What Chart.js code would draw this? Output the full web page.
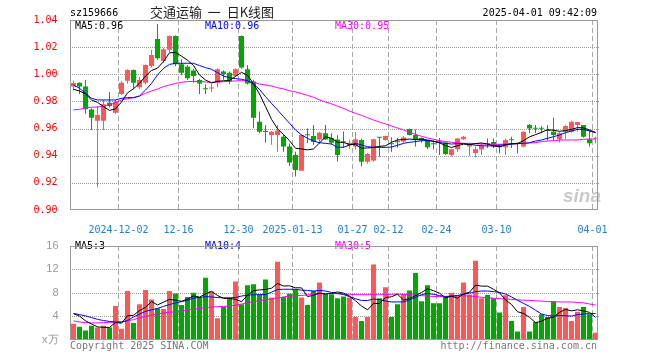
<!DOCTYPE html>
<html>
<head>
<meta charset="utf-8">
<script src="https://cdn.jsdelivr.net/npm/chart.js@4"></script>
<style>
body { margin: 0; background: #fff; }
#wrap { position: relative; width: 660px; height: 360px; overflow: hidden; font-family: "DejaVu Sans Mono", monospace; font-size: 10px; }
canvas { position: absolute; left: 0; z-index: 1; background: transparent; }
.t { position: absolute; white-space: pre; line-height: 12px; z-index: 2; }
.hg { position: absolute; height: 1px; z-index: 0; background: repeating-linear-gradient(to right, #9a9a9a 0 1px, transparent 1px 2px); }
.vg { position: absolute; width: 1px; z-index: 0; background: repeating-linear-gradient(to bottom, #a8a8a8 0 5px, transparent 5px 8px); }
.fr { position: absolute; box-sizing: border-box; border: 1px solid #999; z-index: 3; pointer-events: none; }
</style>
</head>
<body>
<div id="wrap">
  <canvas id="priceChart" width="660" height="235" style="top:0"></canvas>
  <canvas id="volChart" width="660" height="125" style="top:235px"></canvas>

  <div class="t" style="left:70px;top:7px;color:#000">sz159666</div>
  <div class="t" style="left:150px;top:4px;line-height:16px;font-family:'Noto Sans CJK SC',sans-serif;font-size:13px;color:#222">交通运输  一  日K线图</div>
  <div class="t" style="right:63px;top:7px;color:#000">2025-04-01 09:42:09</div>

  <div class="t" style="left:75px;top:20px;color:#000">MA5:0.96</div>
  <div class="t" style="left:205px;top:20px;color:#0000ff">MA10:0.96</div>
  <div class="t" style="left:335px;top:20px;color:#ff00ff">MA30:0.95</div>

  <div class="t" style="left:75px;top:240px;color:#000">MA5:3</div>
  <div class="t" style="left:205px;top:240px;color:#0000ff">MA10:4</div>
  <div class="t" style="left:335px;top:240px;color:#ff00ff">MA30:5</div>

  <div class="t" style="left:563px;top:186px;font-family:'Liberation Sans',sans-serif;font-size:19px;line-height:20px;font-style:italic;font-weight:bold;color:#c9c9c9">sina</div>

  <div class="t" style="left:70px;top:340px;color:#777">Copyright 2025 SINA.COM</div>
  <div class="t" style="right:63px;top:340px;color:#777">http://finance.sina.com.cn</div>
</div>

<script>
// trading days
const dates = [
    '2024-11-20','2024-11-21','2024-11-22','2024-11-25','2024-11-26','2024-11-27','2024-11-28','2024-11-29',
    '2024-12-02','2024-12-03','2024-12-04','2024-12-05','2024-12-06',
    '2024-12-09','2024-12-10','2024-12-11','2024-12-12','2024-12-13',
    '2024-12-16','2024-12-17','2024-12-18','2024-12-19','2024-12-20',
    '2024-12-23','2024-12-24','2024-12-25','2024-12-26','2024-12-27',
    '2024-12-30','2024-12-31','2025-01-02','2025-01-03',
    '2025-01-06','2025-01-07','2025-01-08','2025-01-09','2025-01-10',
    '2025-01-13','2025-01-14','2025-01-15','2025-01-16','2025-01-17',
    '2025-01-20','2025-01-21','2025-01-22','2025-01-23','2025-01-24',
    '2025-01-27','2025-02-05','2025-02-06','2025-02-07',
    '2025-02-10','2025-02-11','2025-02-12','2025-02-13','2025-02-14',
    '2025-02-17','2025-02-18','2025-02-19','2025-02-20','2025-02-21',
    '2025-02-24','2025-02-25','2025-02-26','2025-02-27','2025-02-28',
    '2025-03-03','2025-03-04','2025-03-05','2025-03-06','2025-03-07',
    '2025-03-10','2025-03-11','2025-03-12','2025-03-13','2025-03-14',
    '2025-03-17','2025-03-18','2025-03-19','2025-03-20','2025-03-21',
    '2025-03-24','2025-03-25','2025-03-26','2025-03-27','2025-03-28',
    '2025-03-31','2025-04-01'
];

// x axis labels
const tickDates = ['2024-12-02','2024-12-16','2024-12-30','2025-01-13','2025-01-27','2025-02-12','2025-02-24','2025-03-10','2025-04-01'];
const tickText  = ['2024-12-02','12-16','12-30','2025-01-13','01-27','02-12','02-24','03-10','04-01'];
const priceTicks = [0.90, 0.92, 0.94, 0.96, 0.98, 1.00, 1.02, 1.04];
const volTicks = [0, 4, 8, 12, 16];

// daily prices
const openP = [0.991,0.9938,0.991,0.974,0.9658,0.9658,0.979,0.9717,0.9855,0.9953,
    1.0032,0.9904,0.9938,1.0061,1.026,1.0098,1.018,1.0282,1.0074,1.0056,
    1.0027,0.9958,0.9893,0.9895,0.9938,1.002,1.0012,0.9987,1.0282,1.0037,
    0.9946,0.965,0.958,0.9553,0.9553,0.954,0.9467,0.9405,0.929,0.9556,
    0.9545,0.952,0.9565,0.953,0.952,0.9505,0.9475,0.9467,0.9516,0.9356,
    0.9364,0.9537,0.9516,0.9488,0.9503,0.9504,0.9597,0.9553,0.953,0.9513,
    0.9488,0.9505,0.9497,0.9405,0.9447,0.9521,0.9467,0.942,0.9445,0.9488,
    0.9501,0.9472,0.9462,0.9518,0.9496,0.9467,0.9626,0.9603,0.9603,0.9586,
    0.9577,0.9521,0.9577,0.9577,0.9626,0.9626,0.9521,0.9525];
const highP = [0.9953,0.994,0.9958,0.975,0.9766,0.981,0.987,0.981,0.9953,1.0037,
    1.0035,0.998,1.0072,1.018,1.037,1.0195,1.0285,1.0285,1.011,1.0068,
    1.004,0.9965,0.9925,0.993,1.0045,1.003,1.002,1.0045,1.0285,1.0068,
    0.996,0.9725,0.9626,0.958,0.9626,0.9553,0.949,0.943,0.9555,0.96,
    0.9626,0.9575,0.9626,0.9565,0.955,0.9577,0.952,0.9575,0.9525,0.942,
    0.9525,0.9537,0.9548,0.9535,0.953,0.9545,0.96,0.9594,0.9535,0.9515,
    0.9516,0.953,0.9499,0.9452,0.9528,0.9545,0.9496,0.9467,0.9491,0.9526,
    0.9526,0.9486,0.9526,0.954,0.9496,0.958,0.9633,0.9626,0.9618,0.9626,
    0.968,0.9577,0.9624,0.9658,0.9648,0.9626,0.9589,0.954];
const lowP = [0.988,0.9855,0.971,0.959,0.9167,0.959,0.9755,0.9707,0.9847,0.993,
    0.989,0.989,0.9925,1.005,1.0105,1.0085,1.0165,1.006,0.9995,0.9958,
    0.9938,0.9855,0.9855,0.987,0.9904,0.996,0.9928,0.998,1.004,0.9925,
    0.9602,0.9565,0.9496,0.948,0.943,0.943,0.9325,0.9246,0.929,0.9494,
    0.948,0.9486,0.9515,0.948,0.9357,0.9457,0.945,0.9445,0.932,0.934,
    0.9355,0.9393,0.951,0.943,0.946,0.9495,0.955,0.9467,0.9495,0.945,
    0.9445,0.9405,0.9405,0.9395,0.943,0.9515,0.9397,0.9388,0.9405,0.9457,
    0.9457,0.9418,0.9405,0.9457,0.9418,0.9462,0.9565,0.9565,0.9565,0.9511,
    0.9511,0.9497,0.9521,0.957,0.9577,0.9535,0.9467,0.9491];
const closeP = [0.9935,0.991,0.9742,0.968,0.970,0.978,0.9766,0.9798,0.9938,1.0032,
    0.9938,0.9958,1.0068,1.0142,1.0118,1.0184,1.0282,1.0074,1.0012,0.997,
    0.9987,0.9933,0.989,0.990,1.0037,1.0002,0.9946,1.0037,1.005,0.9933,
    0.968,0.9577,0.9575,0.9577,0.9585,0.9467,0.935,0.9295,0.9553,0.955,
    0.9503,0.957,0.952,0.9495,0.9405,0.950,0.9495,0.9521,0.9356,0.9413,
    0.9521,0.9532,0.9545,0.9484,0.950,0.9535,0.9553,0.9516,0.9513,0.9462,
    0.9484,0.950,0.9413,0.9447,0.9526,0.954,0.9486,0.9447,0.9472,0.9484,
    0.9467,0.9462,0.9516,0.9514,0.9486,0.9577,0.9601,0.9599,0.9599,0.9582,
    0.9553,0.9565,0.9619,0.9651,0.9648,0.954,0.9491,0.953];

// price moving averages
const ma5 = [0.9889,0.9877,0.9855,0.9811,0.9793,0.9762,0.9734,0.9745,0.9796,0.9863,
    0.9894,0.9933,0.9987,1.0028,1.0045,1.0094,1.0159,1.016,1.0134,1.0104,
    1.0065,0.9995,0.9958,0.9936,0.9949,0.9952,0.9955,0.9984,1.0014,0.9994,
    0.9929,0.9855,0.9763,0.9668,0.9599,0.9556,0.9511,0.9455,0.945,0.9443,
    0.945,0.9494,0.9539,0.9528,0.9499,0.9498,0.9483,0.9483,0.9455,0.9457,
    0.9461,0.9469,0.9473,0.9499,0.9516,0.9519,0.9523,0.9518,0.9523,0.9516,
    0.9506,0.9495,0.9474,0.9461,0.9474,0.9485,0.9482,0.9489,0.9494,0.9486,
    0.9471,0.9466,0.948,0.9489,0.9489,0.9511,0.9539,0.9555,0.9572,0.9592,
    0.9587,0.958,0.9584,0.9594,0.9607,0.9605,0.959,0.9572];
const ma10 = [0.9921,0.9897,0.986,0.9823,0.9811,0.9811,0.9811,0.9811,0.9823,0.9828,
    0.9828,0.984,0.9884,0.9933,0.9995,1.0044,1.0073,1.0081,1.0081,1.0081,
    1.0081,1.0064,1.0049,1.0037,1.0012,0.9987,0.9975,0.9968,0.9963,0.9953,
    0.9928,0.9889,0.9835,0.9786,0.9737,0.9688,0.9639,0.959,0.9553,0.9528,
    0.9508,0.9496,0.9491,0.9486,0.9462,0.9462,0.9479,0.9491,0.9479,0.9467,
    0.9462,0.9462,0.9462,0.9464,0.9477,0.9491,0.9499,0.9504,0.9511,0.9511,
    0.9506,0.9496,0.9491,0.9486,0.9489,0.9491,0.9484,0.9477,0.9474,0.9472,
    0.9474,0.9477,0.9481,0.9486,0.9489,0.9491,0.9496,0.9508,0.9516,0.9528,
    0.954,0.9553,0.957,0.9582,0.9594,0.9594,0.9582,0.957];
const ma30 = [0.9737,0.9742,0.9752,0.9757,0.9759,0.9764,0.9774,0.9791,0.9811,0.982,
    0.9828,0.984,0.986,0.9877,0.9892,0.9909,0.9921,0.9933,0.9941,0.9946,
    0.9948,0.9948,0.9943,0.9941,0.9943,0.9946,0.9948,0.9951,0.9953,0.9951,
    0.9941,0.9928,0.9921,0.9914,0.9901,0.9892,0.9879,0.987,0.9857,0.9845,
    0.983,0.9811,0.9796,0.9782,0.9765,0.9749,0.9729,0.9712,0.9698,0.968,
    0.9663,0.9648,0.9634,0.9619,0.9604,0.959,0.9572,0.9558,0.9543,0.9531,
    0.9521,0.9511,0.9504,0.9499,0.9494,0.9491,0.9491,0.9489,0.9486,0.9486,
    0.9484,0.9484,0.9486,0.9486,0.9489,0.9491,0.9494,0.9496,0.9504,0.9508,
    0.9511,0.9516,0.9516,0.9516,0.9516,0.9521,0.9523,0.9523];

// volume (x万) and its averages
const volume = [2.77,2.24,1.6,2.4,2.1,2.4,2.13,5.76,1.92,8.32,
    2.88,6.08,8.48,6.88,5.4,5.25,8.32,7.87,5.95,7.3,
    8.0,7.25,10.56,8.2,3.68,5.62,7.1,9.92,6.08,9.3,
    9.44,7.72,10.24,7.22,13.28,7.3,7.84,8.6,7.2,5.92,
    8.32,9.76,7.8,7.76,7.09,7.36,7.2,3.89,3.2,3.89,
    12.8,7.09,8.96,3.89,6.08,7.84,8.37,11.36,6.56,9.28,
    6.24,6.24,7.36,8.0,7.63,9.76,7.73,13.44,7.09,7.63,
    7.09,4.64,7.57,3.2,1.44,5.6,1.44,3.04,4.37,3.89,
    6.56,5.6,5.44,3.2,4.8,5.6,4.37,1.23];
const vma5 = [4.48,4.05,3.25,2.72,2.22,2.15,2.13,2.96,2.86,4.11,
    4.2,4.99,5.54,6.53,5.94,6.42,6.87,6.74,6.56,6.94,
    7.49,7.27,7.81,8.26,7.54,7.06,7.03,6.9,6.48,7.6,
    8.37,8.49,8.56,8.78,9.58,9.15,9.18,8.85,8.84,7.37,
    7.58,7.96,7.8,7.91,8.15,7.95,7.44,6.66,5.75,5.11,
    6.2,6.17,7.19,7.33,7.76,6.77,7.03,7.51,8.04,8.68,
    8.36,7.94,7.14,7.42,7.09,7.8,8.1,9.31,9.13,9.13,
    8.6,7.98,6.8,6.03,4.79,4.49,3.85,2.94,3.18,3.67,
    3.86,4.69,5.17,4.94,5.12,4.93,4.68,3.84];
const vma10 = [4.5,4.3,4.1,3.8,3.5,3.3,3.15,3.05,3.0,3.3,
    3.9,4.4,4.85,5.1,5.35,5.7,6.0,6.3,6.5,6.75,
    7.1,7.2,7.35,7.3,7.2,7.15,7.15,7.2,7.45,7.6,
    7.68,7.68,7.7,8.1,8.55,8.6,8.6,8.6,8.45,8.4,
    8.3,8.4,8.3,8.05,7.9,7.7,7.35,7.0,6.7,6.7,
    6.95,6.85,6.6,6.45,6.45,6.45,6.8,7.2,7.7,7.88,
    7.75,7.52,7.38,7.45,7.55,7.75,7.95,8.2,8.3,8.3,
    8.2,8.05,7.8,7.3,6.75,6.2,5.7,5.05,4.4,4.15,
    4.05,4.15,4.1,4.05,4.3,4.4,4.48,4.48];
const vma30 = [3.25,3.05,2.95,2.9,2.9,2.95,3.0,3.05,3.1,3.25,
    3.45,3.75,4.0,4.2,4.4,4.6,4.7,4.8,4.9,5.05,
    5.2,5.35,5.45,5.6,5.65,5.7,5.75,5.9,6.1,6.3,
    6.5,6.65,6.8,6.95,7.1,7.3,7.45,7.5,7.55,7.65,
    7.75,7.8,7.85,7.9,7.85,7.8,7.75,7.7,7.68,7.68,
    7.68,7.68,7.7,7.75,7.78,7.72,7.68,7.6,7.52,7.45,
    7.38,7.36,7.36,7.4,7.5,7.5,7.45,7.36,7.25,7.15,
    7.08,7.0,6.95,6.88,6.8,6.75,6.72,6.65,6.6,6.52,
    6.48,6.45,6.45,6.45,6.35,6.3,6.1,5.92];

const UP = '#ff5656';
const DOWN = '#00a800';
const monoFont = { family: 'DejaVu Sans Mono', size: 10 };

const candleColor = closeP.map((c, i) => c >= openP[i] ? UP : DOWN);

// grid lines behind the canvas and a grey frame on top, placed with the chart's own scales
function addGrid(chart, values, canvasTop) {
    const wrap = document.getElementById('wrap');
    const a = chart.chartArea;
    const x = chart.scales.x;
    const y = chart.scales.y;
    const left = Math.floor(a.left);
    const right = Math.floor(a.right);
    const top = canvasTop + Math.round(a.top);
    const bottom = canvasTop + Math.round(a.bottom);

    values.slice(1, -1).forEach(v => {
        const d = document.createElement('div');
        d.className = 'hg';
        d.style.left = left + 'px';
        d.style.width = (right - left + 2) + 'px';
        d.style.top = (canvasTop + Math.round(y.getPixelForValue(v))) + 'px';
        wrap.insertBefore(d, wrap.firstChild);
    });

    const half = (x.getPixelForValue(1) - x.getPixelForValue(0)) / 2;
    tickDates.forEach(dt => {
        const i = dates.indexOf(dt);
        const d = document.createElement('div');
        d.className = 'vg';
        d.style.left = Math.floor(x.getPixelForValue(i) - half) + 'px';
        d.style.top = top + 'px';
        d.style.height = (bottom - top) + 'px';
        wrap.insertBefore(d, wrap.firstChild);
    });

    const f = document.createElement('div');
    f.className = 'fr';
    f.style.left = left + 'px';
    f.style.top = top + 'px';
    f.style.width = (right - left) + 'px';
    f.style.height = (bottom - top) + 'px';
    wrap.appendChild(f);
}

function xScale(showLabels, height) {
    return {
        type: 'category',
        offset: true,
        grid: { display: false },
        border: { display: false },
        ticks: {
            display: showLabels,
            autoSkip: false,
            maxRotation: 0,
            minRotation: 0,
            labelOffset: -3,
            padding: 6,
            color: '#1a7fd6',
            font: monoFont,
            callback: (v, i) => {
                const j = tickDates.indexOf(dates[i]);
                return j < 0 ? '' : tickText[j];
            }
        },
        afterFit: s => { s.height = height; }
    };
}

function maLine(data, color) {
    return {
        type: 'line',
        data: data,
        borderColor: color,
        backgroundColor: color,
        fill: false,
        borderWidth: 1,
        pointRadius: 0,
        tension: 0,
        order: -1
    };
}

// Price (candlestick) chart
const priceChart = new Chart(document.getElementById('priceChart'), {
    type: 'bar',
    data: {
        labels: dates,
        datasets: [
            maLine(ma5, '#000000'),
            maLine(ma10, '#0000ff'),
            maLine(ma30, '#ff00ff'),
            {
                label: 'body',
                data: dates.map((d, i) => [openP[i], closeP[i]]),
                backgroundColor: candleColor,
                barThickness: 5,
                minBarLength: 1,
                grouped: false,
                inflateAmount: 0,
                order: 0
            },
            {
                label: 'wick',
                data: dates.map((d, i) => [lowP[i], highP[i]]),
                backgroundColor: candleColor,
                barThickness: 1,
                grouped: false,
                inflateAmount: 0,
                order: 1
            }
        ]
    },
    options: {
        responsive: false,
        animation: false,
        layout: { padding: { top: 20, right: 61.5, left: 0.5, bottom: 0 } },
        plugins: { legend: { display: false }, tooltip: { enabled: false } },
        scales: {
            x: xScale(true, 25),
            y: {
                min: priceTicks[0],
                max: priceTicks[priceTicks.length - 1],
                afterBuildTicks: s => { s.ticks = priceTicks.map(v => ({ value: v })); },
                grid: { display: false },
                border: { display: false },
                ticks: {
                    color: '#ff0000',
                    padding: 5,
                    font: monoFont,
                    callback: v => Number(v).toFixed(2)
                },
                afterFit: s => { s.width = 70; }
            }
        }
    }
});
addGrid(priceChart, priceTicks, 0);

// Volume chart
const volChart = new Chart(document.getElementById('volChart'), {
    type: 'bar',
    data: {
        labels: dates,
        datasets: [
            maLine(vma5, '#000000'),
            maLine(vma10, '#0000ff'),
            maLine(vma30, '#ff00ff'),
            {
                label: 'volume',
                data: volume,
                backgroundColor: candleColor,
                barThickness: 5,
                grouped: false,
                inflateAmount: 0,
                order: 0
            }
        ]
    },
    options: {
        responsive: false,
        animation: false,
        layout: { padding: { top: 5, right: 61.5, left: 0.5, bottom: 0 } },
        plugins: { legend: { display: false }, tooltip: { enabled: false } },
        scales: {
            x: xScale(false, 20),
            y: {
                min: volTicks[0],
                max: volTicks[volTicks.length - 1],
                afterBuildTicks: s => { s.ticks = volTicks.map(v => ({ value: v })); },
                grid: { display: false },
                border: { display: false },
                ticks: {
                    color: '#999',
                    padding: 4,
                    font: { family: 'Liberation Sans', size: 11 },
                    callback: v => v === 0 ? 'x万' : String(v)
                },
                afterFit: s => { s.width = 70; }
            }
        }
    }
});
addGrid(volChart, volTicks, 235);
</script>
</body>
</html>
